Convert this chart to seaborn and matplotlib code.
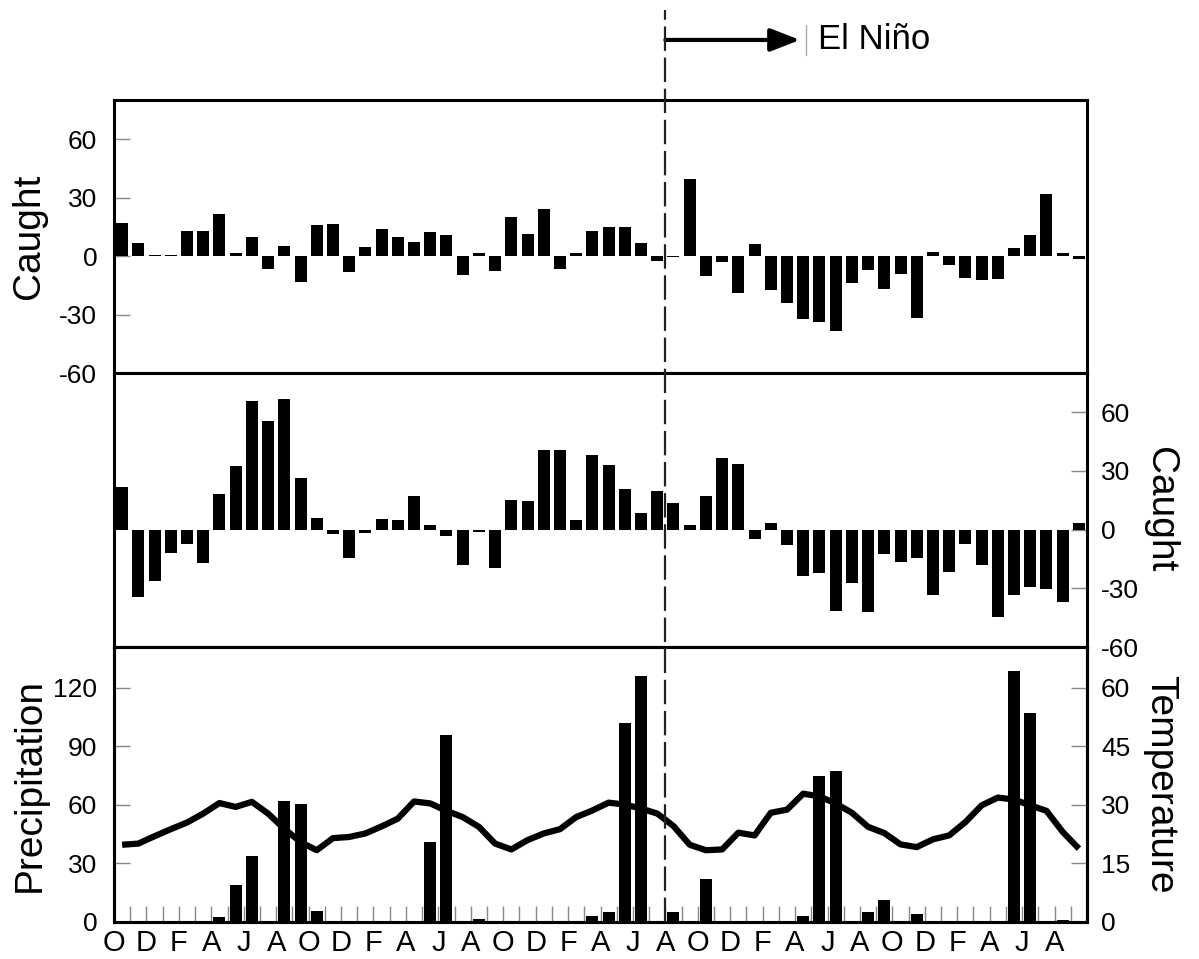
import numpy as np
import matplotlib.pyplot as plt
import matplotlib.transforms as mtransforms
from matplotlib.lines import Line2D
import seaborn as sns

sns.set_style("ticks")
plt.rcParams['font.family'] = ['Liberation Sans', 'DejaVu Sans']
plt.rcParams['axes.unicode_minus'] = False
plt.rcParams['text.color'] = 'black'
plt.rcParams['axes.labelcolor'] = 'black'

# 60 months, October to September (5 years)
months = np.arange(60)
month_letters = ['O', 'N', 'D', 'J', 'F', 'M', 'A', 'M', 'J', 'J', 'A', 'S'] * 5

caught_top = [17, 6.5, 0.4, 0.4, 12.7, 13, 21.4, 1.5, 10, -6.5,
              5, -13.5, 16, 16.5, -8, 4.5, 14, 10, 7.2, 12.3,
              10.6, -9.6, 1.7, -7.9, 19.9, 11.5, 24.2, -6.9, 1.7, 12.9,
              15.1, 15.1, 6.7, -2.7, -0.6, 39.3, -10.1, -2.9, -19, 6.3,
              -17.3, -24, -32.3, -33.8, -38.2, -13.6, -7.4, -16.8, -9.1, -31.7,
              1.9, -4.8, -11.3, -12.2, -12, 4.3, 10.6, 31.6, 1.7, -1.7]

caught_mid = [21.7, -34.5, -26.3, -11.8, -7.2, -16.9, 18.1, 32.5, 65.5, 55.7,
              66.7, 26.3, 6, -2.4, -14.5, -1.9, 5.6, 5, 17.1, 2.6,
              -3.4, -18.3, -1.2, -19.7, 15, 14.4, 40.5, 40.5, 4.8, 37.9,
              33.2, 20.5, 8.5, 19.5, 13.7, 2.4, 17.1, 36.4, 33.5, -5,
              3.6, -8, -23.9, -22.4, -41.4, -27.2, -42.2, -12.5, -16.8, -14.4,
              -33.3, -21.7, -7.2, -17.9, -44.8, -33.3, -29.4, -30.3, -37.1, 3.2]

precip = [0, 0, 0, 0, 0, 0, 2.4, 19.1, 33.8, 0,
          62.2, 60.7, 5.8, 0, 0, 0, 0, 0, 0.5, 41.2,
          95.9, 0, 1.4, 0, 0, 0, 0, 0, 0, 3.2,
          5.1, 102, 126, 0, 5.3, 0, 22, 0, 0, 0,
          0, 0, 3.1, 75, 77.4, 0, 5.3, 11.5, 0, 3.9,
          0, 0, 0, 0, 0, 128.7, 107.2, 0, 1.2, 0]

temperature = [19.8, 20.1, 22, 23.8, 25.5, 27.8, 30.5, 29.5, 30.8, 27.8,
               23.9, 20.5, 18.4, 21.5, 21.8, 22.7, 24.5, 26.5, 30.9, 30.4,
               28.5, 26.9, 24.4, 20.1, 18.6, 21, 22.7, 23.8, 26.9, 28.6,
               30.6, 30.1, 29.1, 27.8, 24.6, 19.8, 18.4, 18.6, 22.9, 22.2,
               28, 28.8, 32.9, 32.2, 30.4, 28, 24.4, 22.8, 19.9, 19.2,
               21.2, 22.2, 25.6, 29.9, 31.9, 31.4, 29.9, 28.5, 23.1, 18.8]

caught_ticks = [-60, -30, 0, 30, 60]
precip_ticks = [0, 30, 60, 90, 120]
temp_ticks = [0, 15, 30, 45, 60]
nino_start = 33.5  # boundary before August, year 3

fig = plt.figure(figsize=(11.99, 9.59), dpi=100)
left, width = 0.0951, 0.8115
ax1 = fig.add_axes([left, 0.6110, width, 0.2847])
ax2 = fig.add_axes([left, 0.3253, width, 0.2857])
ax3 = fig.add_axes([left, 0.0386, width, 0.2867])

tick_kw = dict(direction='in', length=11.5, width=1, color='#888888',
               labelsize=19, labelcolor='black')
spine_w = 2.2

# top panel
sns.barplot(x=months, y=caught_top, color='black', saturation=1, width=0.74,
            linewidth=0, ax=ax1)
ax1.set_ylim(-60, 80)
ax1.set_yticks(caught_ticks)
ax1.tick_params(axis='y', pad=12, **tick_kw)
ax1.tick_params(axis='x', bottom=False, labelbottom=False)
ax1.set_ylabel('Caught', fontsize=28)
ax1.yaxis.set_label_coords(-0.087, 0.5)
ax1.yaxis.label.set_va('center')

# middle panel
sns.barplot(x=months, y=caught_mid, color='black', saturation=1, width=0.74,
            linewidth=0, ax=ax2)
ax2.set_ylim(-60, 80)
ax2.set_yticks(caught_ticks)
ax2.yaxis.tick_right()
ax2.tick_params(axis='y', pad=10, **tick_kw)
ax2.tick_params(axis='x', bottom=False, labelbottom=False)
ax2.yaxis.set_label_position('right')
ax2.set_ylabel('Caught', fontsize=28, rotation=270)
ax2.yaxis.set_label_coords(1.075, 0.5)
ax2.yaxis.label.set_va('center')

# bottom panel: precipitation bars + temperature line
sns.barplot(x=months, y=precip, color='black', saturation=1, width=0.74,
            linewidth=0, ax=ax3)
ax3.set_ylim(0, 141)
ax3.set_yticks(precip_ticks)
ax3.tick_params(axis='y', pad=12, **tick_kw)
ax3.set_ylabel('Precipitation', fontsize=28)
ax3.yaxis.set_label_coords(-0.087, 0.5)
ax3.yaxis.label.set_va('center')

ax_t = ax3.twinx()
sns.lineplot(x=months, y=temperature, color='black', linewidth=4.5, ax=ax_t,
             solid_joinstyle='round', solid_capstyle='butt')
ax_t.set_ylim(0, 70.5)
ax_t.set_yticks(temp_ticks)
ax_t.tick_params(axis='y', pad=10, **tick_kw)
ax_t.set_ylabel('Temperature', fontsize=28, rotation=270)
ax_t.yaxis.set_label_coords(1.075, 0.5)
ax_t.yaxis.label.set_va('center')

bounds = np.arange(61) - 0.5
for ax in (ax1, ax2, ax3, ax_t):
    ax.set_xlim(-0.5, 59.5)
    for s in ax.spines.values():
        s.set_linewidth(spine_w)
        s.set_color('black')

ax3.set_xticks(bounds[0:60:2])
ax3.set_xticklabels(month_letters[0:60:2], fontsize=21)
ax3.set_xticks(bounds[1::2], minor=True)
ax3.tick_params(axis='x', which='both', direction='in', length=11.5, width=1,
                color='#888888', labelcolor='black', pad=5)
ax3.set_xlabel('')
ax1.set_xlabel('')
ax2.set_xlabel('')

# El Nino marker: dashed line through all panels + arrow
trans = mtransforms.blended_transform_factory(ax1.transData, fig.transFigure)
fig.add_artist(Line2D([nino_start, nino_start], [0.0386, 0.99], transform=trans,
                      color='#222222', lw=1.6, dashes=(11, 3), zorder=5))
atrans = mtransforms.blended_transform_factory(ax1.transData, ax1.transAxes)
ax1.annotate('', xy=(41.8, 1.22), xytext=(nino_start, 1.22), xycoords=atrans,
             textcoords=atrans, annotation_clip=False,
             arrowprops=dict(arrowstyle='-|>,head_length=0.9,head_width=0.35',
                             lw=3, color='black', mutation_scale=20,
                             shrinkA=0, shrinkB=0))
ax1.plot([42.2, 42.2], [1.165, 1.275], transform=atrans, color='#aaaaaa',
         lw=1, clip_on=False)
ax1.text(42.9, 1.22, 'El Niño', transform=atrans, fontsize=25, color='black',
         ha='left', va='center')

plt.savefig('out.png', dpi=100)
